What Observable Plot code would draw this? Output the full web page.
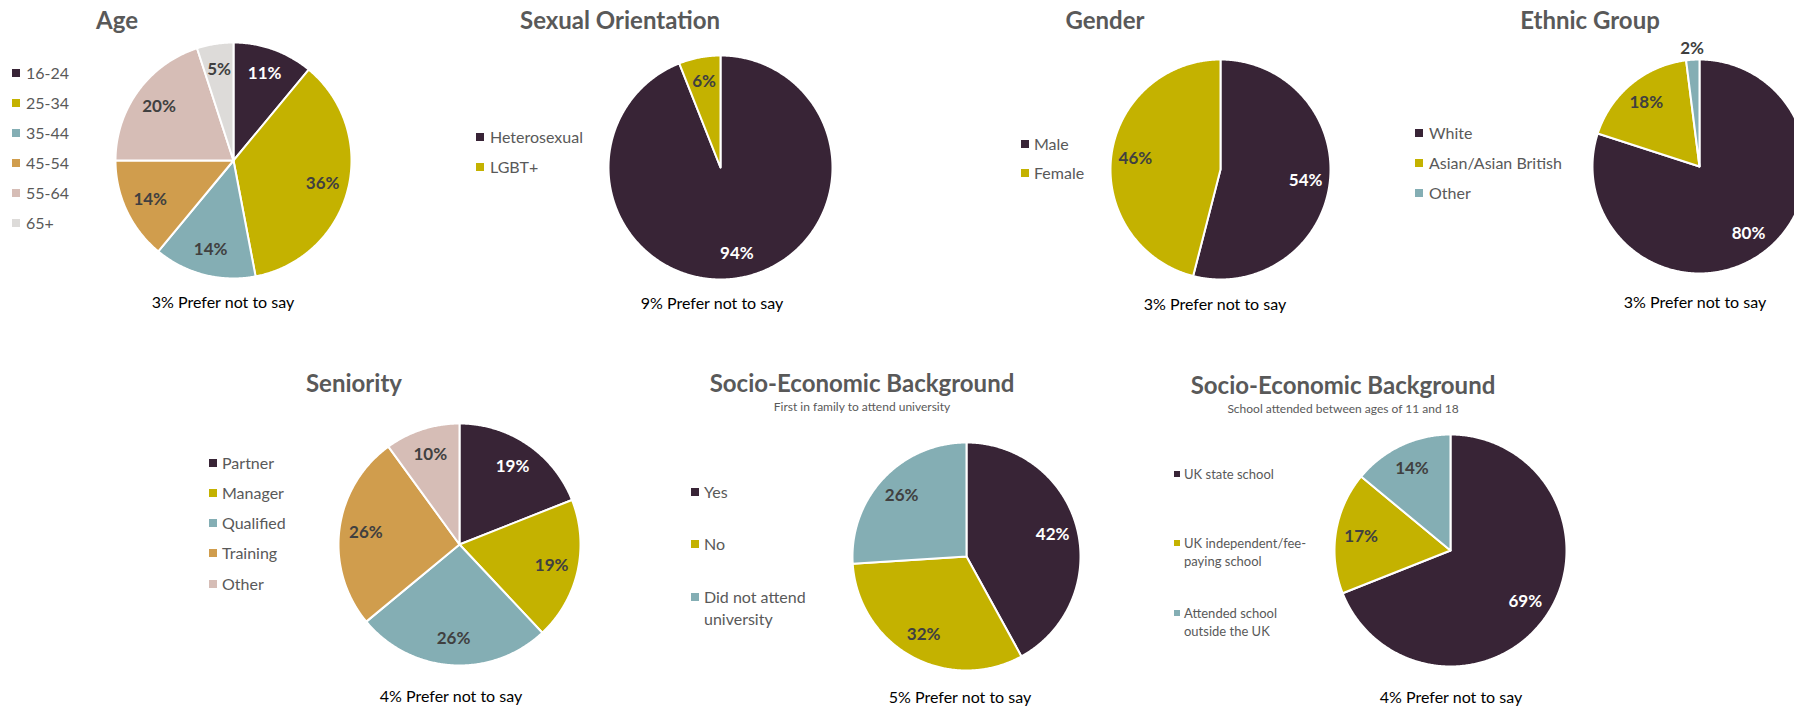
<!DOCTYPE html>
<html><head><meta charset="utf-8">
<script src="https://cdn.jsdelivr.net/npm/d3@7"></script>
<script src="https://cdn.jsdelivr.net/npm/@observablehq/plot@0.6"></script>
<style>
html,body{margin:0;padding:0;background:#fff;}
body{width:1794px;height:707px;position:relative;overflow:hidden;font-family:Lato,"Open Sans",sans-serif;}
.title{position:absolute;font-weight:700;font-size:24px;color:#595959;transform:translate(-50%,-50%);white-space:nowrap;line-height:1;}
.sub{position:absolute;font-size:12px;color:#595959;transform:translate(-50%,-50%);white-space:nowrap;line-height:1;}
.cap{position:absolute;font-size:16px;color:#000;transform:translate(-50%,-50%);white-space:nowrap;line-height:1;}
.leg{position:absolute;color:#595959;}
.sw{position:absolute;}
.pie{position:absolute;}
.pie svg{max-width:none !important;display:block;}
</style></head><body>
<script>
// ---- data ----
const palette = ["#382436", "#C4B200", "#84AEB4", "#D09D4D", "#D6BDB6", "#DDDBD9"];

const ageCats = ["16-24", "25-34", "35-44", "45-54", "55-64", "65+"];
const ageVals = [11, 36, 14, 14, 20, 5];

const orientCats = ["Heterosexual", "LGBT+"];
const orientVals = [94, 6];

const genderCats = ["Male", "Female"];
const genderVals = [54, 46];

const ethnicCats = ["White", "Asian/Asian British", "Other"];
const ethnicVals = [80, 18, 2];

const seniorityCats = ["Partner", "Manager", "Qualified", "Training", "Other"];
const seniorityVals = [19, 19, 26, 26, 10];

const firstGenCats = ["Yes", "No", "Did not attend university"];
const firstGenVals = [42, 32, 26];

const schoolCats = ["UK state school", "UK independent/fee-paying school", "Attended school outside the UK"];
const schoolVals = [69, 17, 14];

const titles = ["Age", "Sexual Orientation", "Gender", "Ethnic Group", "Seniority", "Socio-Economic Background", "Socio-Economic Background"];
const subtitles = [null, null, null, null, null, "First in family to attend university", "School attended between ages of 11 and 18"];
const preferNotToSay = [3, 9, 3, 3, 4, 5, 4];

// ---- layout ----
const layout = [
  {cats: ageCats, vals: ageVals, tx: 117, ty: 20, cx: 233, cy: 160, r: 118, capx: 223, capy: 302,
   swX: 12, txX: 26, rows: [73, 103, 133, 163, 193, 223], fs: 16, lh: 20, sw: 8, legW: 120},
  {cats: orientCats, vals: orientVals, tx: 620, ty: 20, cx: 720, cy: 167, r: 112, capx: 712, capy: 303,
   swX: 476, txX: 490, rows: [137, 167], fs: 16, lh: 20, sw: 8, legW: 140},
  {cats: genderCats, vals: genderVals, tx: 1105, ty: 20, cx: 1220, cy: 169, r: 110, capx: 1215, capy: 304,
   swX: 1021, txX: 1034, rows: [144, 173], fs: 16, lh: 20, sw: 8, legW: 120},
  {cats: ethnicCats, vals: ethnicVals, tx: 1590, ty: 20, cx: 1699, cy: 166, r: 107, capx: 1695, capy: 302,
   swX: 1415, txX: 1429, rows: [133, 163, 193], fs: 16, lh: 20, sw: 8, legW: 160},
  {cats: seniorityCats, vals: seniorityVals, tx: 354, ty: 383, cx: 459, cy: 544, r: 121, capx: 451, capy: 696,
   swX: 209, txX: 222, rows: [463, 493, 523, 553, 584], fs: 16, lh: 20, sw: 8, legW: 120},
  {cats: firstGenCats, vals: firstGenVals, tx: 862, ty: 383, sy: 407, cx: 966, cy: 556, r: 114, capx: 960, capy: 697,
   swX: 691, txX: 704, rows: [492, 544, 597], fs: 16, lh: 22, sw: 8, legW: 112},
  {cats: schoolCats, vals: schoolVals, tx: 1343, ty: 385, sy: 409, cx: 1450, cy: 550, r: 116, capx: 1451, capy: 697,
   swX: 1174, txX: 1184, rows: [474, 543, 613], fs: 13, lh: 18, sw: 6, legW: 128}
];

function el(tag, cls, css, text, parent) {
  const e = document.createElement(tag);
  if (cls) e.className = cls;
  Object.assign(e.style, css);
  if (text != null) e.textContent = text;
  (parent || document.body).appendChild(e);
  return e;
}

const M = 30;

function makePie(cats, vals, r) {
  const total = d3.sum(vals);
  let acc = 0;
  const slices = vals.map((v, i) => {
    const a0 = acc / total * 2 * Math.PI; acc += v;
    const a1 = acc / total * 2 * Math.PI;
    const frac = v / total;
    const mid = (a0 + a1) / 2;
    const k = frac < 0.03 ? 1.1 : 0.78;
    return {cat: cats[i], v, a0, a1, i, small: frac < 0.03, lx: Math.sin(mid) * k, ly: -Math.cos(mid) * k};
  });
  const feats = slices.map(s => {
    const n = Math.max(2, Math.ceil((s.a1 - s.a0) / (Math.PI / 360)));
    const ring = [[0, 0]];
    for (let j = 0; j <= n; j++) {
      const a = s.a0 + (s.a1 - s.a0) * j / n;
      ring.push([Math.sin(a), -Math.cos(a)]);
    }
    ring.push([0, 0]);
    return {type: "Feature", properties: s, geometry: {type: "Polygon", coordinates: [ring]}};
  });
  const size = 2 * r + 2 * M;
  return Plot.plot({
    width: size, height: size, margin: M,
    style: {overflow: "visible", background: "transparent", fontFamily: "Lato, 'Open Sans', sans-serif", maxWidth: "none"},
    projection: {type: "identity", domain: {type: "MultiPoint", coordinates: [[-1, -1], [1, 1]]}, clip: false},
    color: {domain: cats, range: palette.slice(0, cats.length)},
    marks: [
      Plot.geo(feats, {fill: d => d.properties.cat, stroke: "white", strokeWidth: 2}),
      Plot.text(slices.filter(s => s.i === 0 && !s.small), {x: "lx", y: "ly", text: s => s.v + "%", fill: "white", fontWeight: "bold", fontSize: 17}),
      Plot.text(slices.filter(s => !(s.i === 0 && !s.small)), {x: "lx", y: "ly", text: s => s.v + "%", fill: "#404040", fontWeight: "bold", fontSize: 17})
    ]
  });
}

layout.forEach((p, idx) => {
  const size = 2 * p.r + 2 * M;
  const wrap = el("div", "pie", {left: (p.cx - p.r - M) + "px", top: (p.cy - p.r - M) + "px", width: size + "px", height: size + "px"});
  wrap.appendChild(makePie(p.cats, p.vals, p.r));
  el("div", "title", {left: p.tx + "px", top: p.ty + "px"}, titles[idx]);
  if (subtitles[idx]) el("div", "sub", {left: p.tx + "px", top: p.sy + "px"}, subtitles[idx]);
  el("div", "cap", {left: p.capx + "px", top: p.capy + "px"}, preferNotToSay[idx] + "% Prefer not to say");
  p.cats.forEach((c, i) => {
    const y = p.rows[i];
    el("div", "sw", {left: p.swX + "px", top: (y - p.sw / 2) + "px", width: p.sw + "px", height: p.sw + "px", background: palette[i]});
    el("div", "leg", {left: p.txX + "px", top: (y - p.lh / 2) + "px", width: p.legW + "px", fontSize: p.fs + "px", lineHeight: p.lh + "px"}, c);
  });
});
</script>
</body></html>
